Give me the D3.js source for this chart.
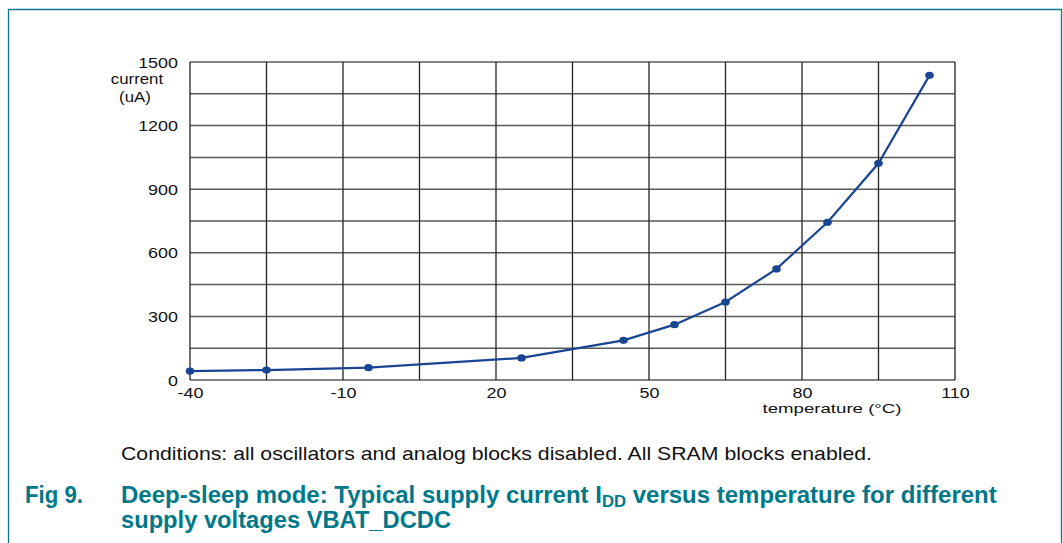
<!DOCTYPE html>
<html>
<head>
<meta charset="utf-8">
<script src="https://cdn.jsdelivr.net/npm/d3@7"></script>
<style>
  html, body { margin: 0; padding: 0; background: #fff; }
  svg { display: block; }
</style>
</head>
<body>
<svg id="chart" width="1063" height="543"></svg>
<script>
// ---- data ----
const temperatures = [-40, -25, -5, 25, 45, 55, 65, 75, 85, 95, 105];
const currents = [42, 47, 58, 104, 187, 261, 368, 524, 744, 1022, 1437];
const xTickValues = [-40, -10, 20, 50, 80, 110];
const yTickValues = [0, 300, 600, 900, 1200, 1500];
const xGridValues = [-40, -25, -10, 5, 20, 35, 50, 65, 80, 95, 110];
const yGridValues = [0, 150, 300, 450, 600, 750, 900, 1050, 1200, 1350, 1500];
const xAxisTitle = "temperature (°C)";
const yAxisTitle = ["current", "(uA)"];
const conditionsText = "Conditions: all oscillators and analog blocks disabled. All SRAM blocks enabled.";
const figLabel = "Fig 9.";

const svg = d3.select("#chart");
const teal = "#00788a";
const lineBlue = "#1a4592";
const font = "'Liberation Sans', Arial, sans-serif";
const STRETCH = 1.28;

// widen text horizontally around its anchor
function stretch(sel, f) {
  sel.each(function () {
    const n = this;
    const w = n.getComputedTextLength();
    if (w > 0) {
      d3.select(n).attr("textLength", w * f).attr("lengthAdjust", "spacingAndGlyphs");
    }
  });
}

// frame
svg.append("path")
  .attr("d", "M8.5,543 L8.5,9.5 L1061.5,9.5 L1061.5,543")
  .attr("fill", "none").attr("stroke", teal).attr("stroke-width", 1.3);

const x = d3.scaleLinear().domain([-40, 110]).range([190, 955]);
const y = d3.scaleLinear().domain([0, 1500]).range([380, 62]);

// grid
const g = svg.append("g");
g.selectAll("line.h").data(yGridValues).join("line")
  .attr("x1", x(-40)).attr("x2", x(110))
  .attr("y1", d => y(d)).attr("y2", d => y(d))
  .attr("stroke", "#5a5a5a").attr("stroke-width", 1.5);
g.selectAll("line.v").data(xGridValues).join("line")
  .attr("y1", y(0)).attr("y2", y(1500))
  .attr("x1", d => x(d)).attr("x2", d => x(d))
  .attr("stroke", "#222").attr("stroke-width", 1.3);

// axes (labels only)
const fmt = d => String(d);
const yAxis = d3.axisLeft(y).tickValues(yTickValues).tickSize(0).tickPadding(12).tickFormat(fmt);
const yg = svg.append("g").attr("transform", `translate(${x(-40)},0)`).call(yAxis);
yg.select(".domain").remove();
yg.selectAll("text").attr("font-family", font).attr("font-size", 14).attr("fill", "#111")
  .attr("dy", "0.36em");
stretch(yg.selectAll("text"), STRETCH);

const xAxis = d3.axisBottom(x).tickValues(xTickValues).tickSize(0).tickPadding(0).tickFormat(fmt);
const xg = svg.append("g").attr("transform", `translate(0,${y(0)})`).call(xAxis);
xg.select(".domain").remove();
xg.selectAll("text").attr("font-family", font).attr("font-size", 14).attr("fill", "#111")
  .attr("y", 18).attr("dy", 0);
stretch(xg.selectAll("text"), STRETCH);

const xt = svg.append("text").attr("x", 832).attr("y", 413).attr("text-anchor", "middle")
  .attr("font-family", font).attr("font-size", 13.5).attr("fill", "#111").text(xAxisTitle);
stretch(xt, 1.38);
const yt = svg.selectAll("text.yt").data(yAxisTitle).join("text")
  .attr("class", "yt")
  .attr("x", (d, i) => i === 0 ? 137 : 135).attr("y", (d, i) => 84 + i * 18).attr("text-anchor", "middle")
  .attr("font-family", font).attr("font-size", 14).attr("fill", "#111").text(d => d);
stretch(yt, 1.2);

// series
const pts = temperatures.map((t, i) => [t, currents[i]]);
svg.append("path").datum(pts)
  .attr("d", d3.line().x(d => x(d[0])).y(d => y(d[1])))
  .attr("fill", "none").attr("stroke", lineBlue).attr("stroke-width", 2.2);
svg.selectAll("ellipse.pt").data(pts).join("ellipse")
  .attr("cx", d => x(d[0])).attr("cy", d => y(d[1]))
  .attr("rx", 4.3).attr("ry", 3.6).attr("fill", lineBlue);

// captions
svg.append("text").attr("x", 121).attr("y", 460)
  .attr("font-family", font).attr("font-size", 18.5).attr("fill", "#111")
  .attr("textLength", 751).attr("lengthAdjust", "spacingAndGlyphs")
  .text(conditionsText);

svg.append("text").attr("x", 25).attr("y", 503)
  .attr("font-family", font).attr("font-size", 23).attr("font-weight", "bold").attr("fill", teal)
  .attr("textLength", 58).attr("lengthAdjust", "spacingAndGlyphs")
  .text(figLabel);

const t1 = svg.append("text").attr("x", 121).attr("y", 503)
  .attr("font-family", font).attr("font-size", 23).attr("font-weight", "bold").attr("fill", teal);
t1.append("tspan").text("Deep-sleep mode: Typical supply current I");
t1.append("tspan").attr("baseline-shift", "-25%").attr("font-size", 16).text("DD");
t1.append("tspan").attr("baseline-shift", "0%").attr("font-size", 23).text(" versus temperature for different");

svg.append("text").attr("x", 121).attr("y", 528)
  .attr("font-family", font).attr("font-size", 23).attr("font-weight", "bold").attr("fill", teal)
  .attr("textLength", 330).attr("lengthAdjust", "spacingAndGlyphs")
  .text("supply voltages VBAT_DCDC");

// fit first caption line width
const target = 997 - 121;
const w = t1.node().getComputedTextLength();
if (w > 0) {
  const s = target / w;
  t1.attr("transform", `translate(121,503) scale(${s},1) translate(-121,-503)`);
}
</script>
</body>
</html>
